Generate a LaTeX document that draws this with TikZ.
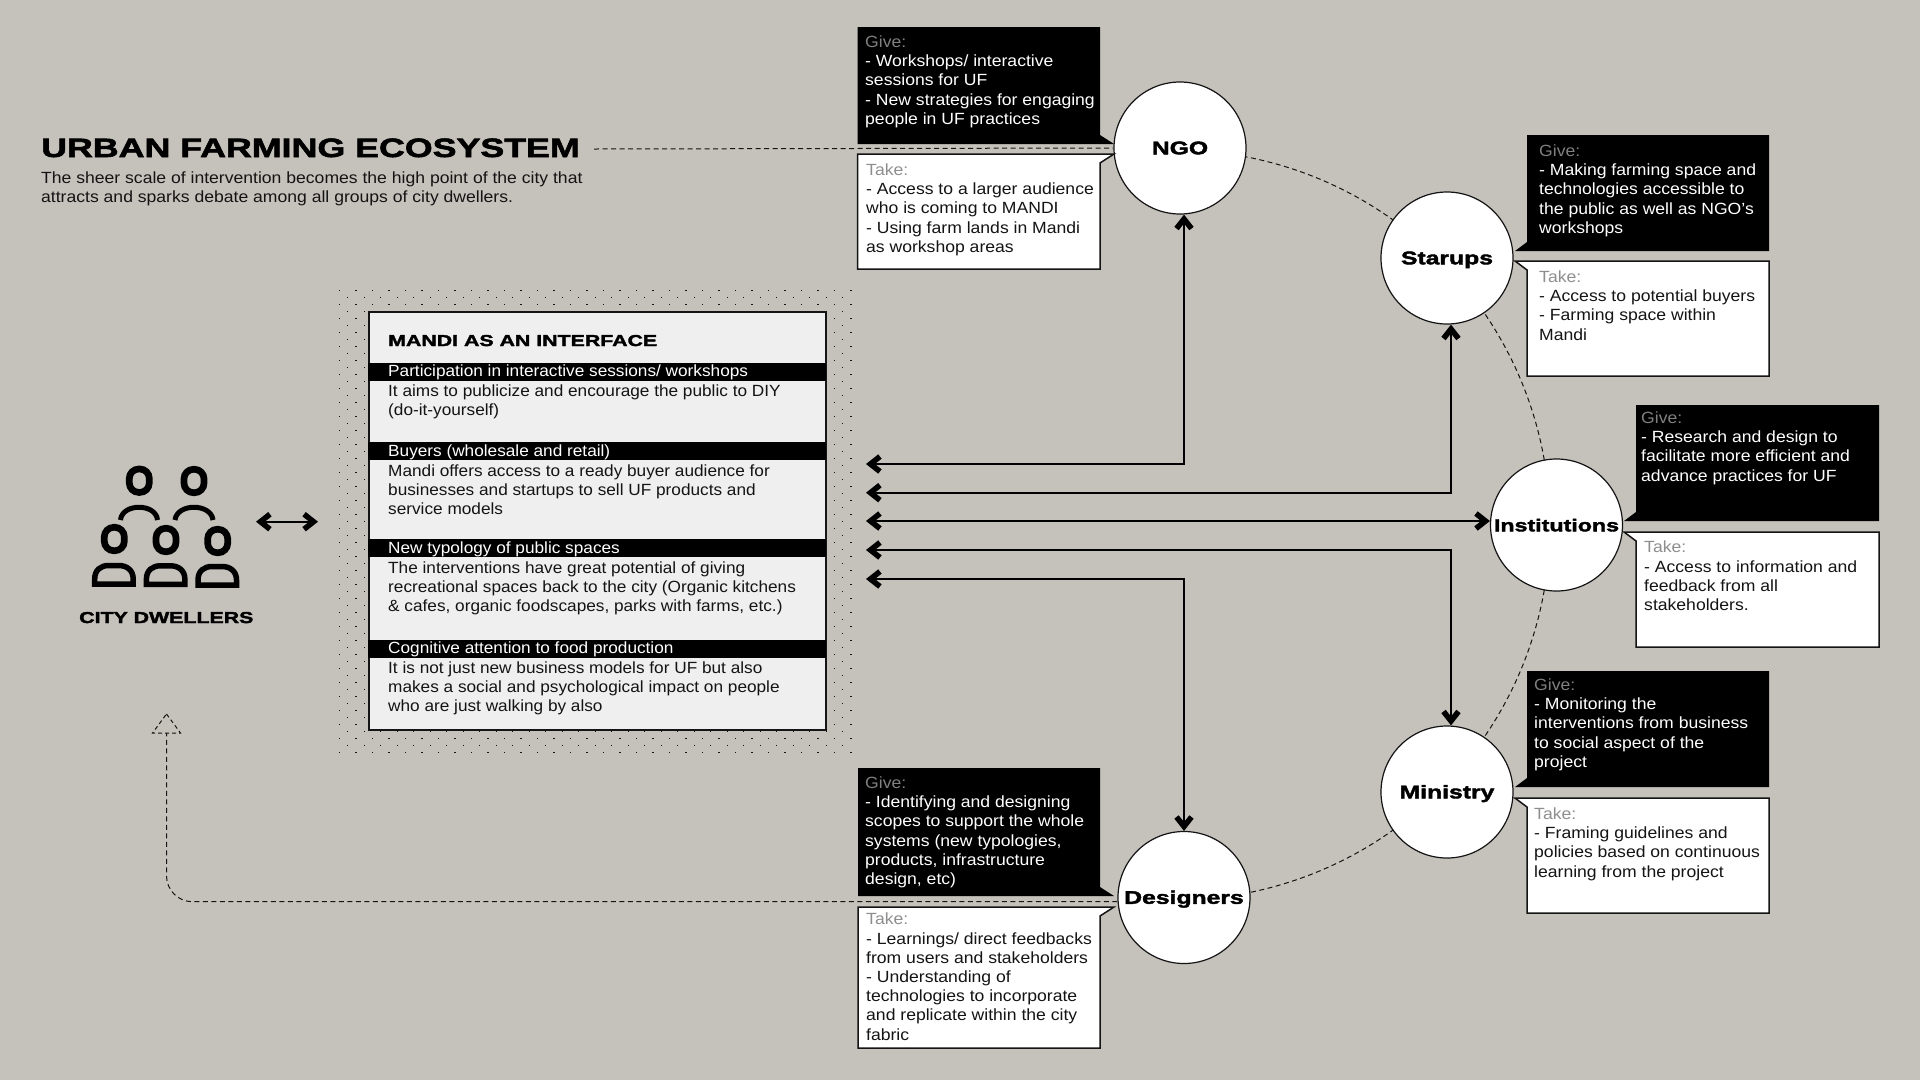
\documentclass[tikz,border=0pt]{standalone}
\usepackage{fontspec}
\usetikzlibrary{arrows.meta}
\setmainfont{Liberation Sans}[FakeStretch=1.085]
\newfontfamily\panelfont{Liberation Sans}[FakeStretch=1.063]
\newfontfamily\widefont{Liberation Sans}[FakeStretch=1.35,BoldFeatures={FakeBold=2.2}]
\definecolor{bgc}{HTML}{C5C1BB}
\definecolor{inkc}{HTML}{141414}
\definecolor{panelc}{HTML}{EFEFEF}
\definecolor{giveg}{HTML}{808080}
\definecolor{takeg}{HTML}{8E8E8E}
\tikzset{
 x=1pt,y=-1pt,
 bandtext/.style={inner sep=0pt,anchor=north west,align=left,text=white,font=\panelfont\fontsize{16.2}{19.2}\selectfont,execute at begin node={\rule{0pt}{14pt}}},
 body/.style={bandtext,text=inkc,yshift=-3.5pt,font=\fontsize{16.2}{19.2}\selectfont},
 panelbody/.style={bandtext,text=inkc,yshift=-3.5pt},
 givetext/.style={body,text=white},
 headb/.style={inner sep=0pt,anchor=base west,text=black,font=\widefont\bfseries\fontsize{#1}{#1}\selectfont},
 hub/.style={circle,draw=inkc,fill=white,line width=1.2pt,minimum size=132pt,inner sep=0pt,text=black,font=\widefont\bfseries\fontsize{18.3}{18.3}\selectfont},
 chev/.tip={Straight Barb[length=9.5pt,width=15pt,line width=5.5pt]},
 link/.style={draw=black,line width=2pt,{chev}-{chev}},
 thindash/.style={draw=inkc,line width=1pt,dash pattern=on 5pt off 3.5pt},
 pile/.style={line width=6.7pt,draw=black,rounded corners=9.5pt},
 dome/.style={line width=5.5pt,draw=black,line join=miter},
}
\newcommand{\givel}[4]{%
 \fill[black] (#1,#2) -- ++(#3,0) -- ++(0,#4-9) -- ++(14,9) -- ++(-14-#3,0) -- cycle;}
\newcommand{\takel}[4]{%
 \draw[fill=white,draw=inkc,line width=1.5pt,line join=miter] (#1,#2) -- ++(#3+14,0) -- ++(-14,9) -- ++(0,#4-9) -- ++(-#3,0) -- cycle;}
\newcommand{\giver}[4]{%
 \fill[black] (#1,#2) -- ++(#3,0) -- ++(0,#4) -- ++(-#3-12,0) -- ++(12,-9) -- cycle;}
\newcommand{\taker}[4]{%
 \draw[fill=white,draw=inkc,line width=1.5pt,line join=miter] (#1-12,#2) -- ++(12+#3,0) -- ++(0,#4) -- ++(-#3,0) -- ++(0,-#4+9) -- cycle;}
\newcommand{\gl}[1]{\textcolor{giveg}{Give:}\\#1}
\newcommand{\tl}[1]{\textcolor{takeg}{Take:}\\#1}
\newcommand{\hublabel}[1]{\smash{\raisebox{-6.3pt}{#1}}}
\begin{document}
\begin{tikzpicture}
\useasboundingbox (0,0) rectangle (1920,1080);
\fill[bgc] (0,0) rectangle (1920,1080);

% dotted field
\foreach \c in {0,...,62}{
 \pgfmathsetmacro{\dx}{339.5+8.25*\c}
 \pgfmathsetmacro{\dy}{isodd(\c)?297:290}
 \draw[inkc,line width=1.2pt,dash pattern=on 1.2pt off 12.8pt] (\dx,\dy) -- (\dx,754);
}

% outer ring
\draw[thindash,domain=-90:90,samples=120] plot ({1175+375*cos(\x)},{525+375*sin(\x)});

% hubs
\coordinate (titleend) at (594,149);
\coordinate (p1) at (866,464);
\coordinate (p2) at (866,492.7);
\coordinate (p3) at (866,521);
\coordinate (p4) at (866,550);
\coordinate (p5) at (866,579);
\node[hub] (ngo) at (1180,148) {\hublabel{NGO}};
\node[hub] (star) at (1447,258) {\hublabel{Starups}};
\node[hub,font=\widefont\bfseries\fontsize{17.2}{17.2}\selectfont] (inst) at (1556.5,525) {\hublabel{Institutions}};
\node[hub] (mini) at (1447,792) {\hublabel{Ministry}};
\node[hub] (desi) at (1184,897.5) {\hublabel{Designers}};

\draw[thindash] (titleend) -- (ngo.west);

% NGO boxes
\givel{857.5}{27}{242.5}{117}
\node[givetext] (ngog) at (865,32) {\gl{- Workshops/ interactive\\sessions for UF\\- New strategies for engaging\\people in UF practices}};
\takel{857.5}{154}{242.5}{115}
\node[body] (ngot) at (866,160) {\tl{- Access to a larger audience\\who is coming to MANDI\\- Using farm lands in Mandi\\as workshop areas}};

% Designers boxes
\givel{858}{768}{242}{128}
\node[givetext] (desig) at (865,773) {\gl{- Identifying and designing\\scopes to support the whole\\systems (new typologies,\\products, infrastructure\\design, etc)}};
\takel{858}{907}{242}{141}
\node[body] (desit) at (866,909.5) {\tl{- Learnings/ direct feedbacks\\from users and stakeholders\\- Understanding of\\technologies to incorporate\\and replicate within the city\\fabric}};

% Starups boxes
\giver{1527}{135}{242}{116}
\node[givetext] (starg) at (1539,141) {\gl{- Making farming space and\\technologies accessible to\\the public as well as NGO's\\workshops}};
\taker{1527}{261}{242}{115}
\node[body] (start) at (1539,267) {\tl{- Access to potential buyers\\- Farming space within\\Mandi}};

% Institutions boxes
\giver{1636}{405}{243}{116}
\node[givetext] (instg) at (1641,408) {\gl{- Research and design to\\facilitate more efficient and\\advance practices for UF}};
\taker{1636}{532}{243}{115}
\node[body] (instt) at (1644,537.5) {\tl{- Access to information and\\feedback from all\\stakeholders.}};

% Ministry boxes
\giver{1527}{671}{242}{116}
\node[givetext] (minig) at (1534,675) {\gl{- Monitoring the\\interventions from business\\to social aspect of the\\project}};
\taker{1527}{798}{242}{115}
\node[body] (minit) at (1534,804) {\tl{- Framing guidelines and\\policies based on continuous\\learning from the project}};

% title
\node[headb=26.5] (maintitle) at (41,157) {URBAN FARMING ECOSYSTEM};
\node[body] (subtitle) at (41,168) {The sheer scale of intervention becomes the high point of the city that\\attracts and sparks debate among all groups of city dwellers.};

% Mandi panel
\node[draw=inkc,fill=panelc,line width=2.4pt,minimum width=457pt,minimum height=418pt,inner sep=0pt,anchor=north west] (panel) at (368,311) {};
\foreach \by in {363,442,539,640}{\fill[black] (368,\by) rectangle (826,\by+18);}
\node[headb=15.8] (mtitle) at (388,346) {MANDI AS AN INTERFACE};
\node[bandtext] (b1) at (388,362) {Participation in interactive sessions/ workshops};
\node[panelbody] (t1) at (388,381) {It aims to publicize and encourage the public to DIY\\(do-it-yourself)};
\node[bandtext] (b2) at (388,442) {Buyers (wholesale and retail)};
\node[panelbody] (t2) at (388,461) {Mandi offers access to a ready buyer audience for\\businesses and startups to sell UF products and\\service models};
\node[bandtext] (b3) at (388,539) {New typology of public spaces};
\node[panelbody] (t3) at (388,558) {The interventions have great potential of giving\\recreational spaces back to the city (Organic kitchens\\\& cafes, organic foodscapes, parks with farms, etc.)};
\node[bandtext] (b4) at (388,639) {Cognitive attention to food production};
\node[panelbody] (t4) at (388,658) {It is not just new business models for UF but also\\makes a social and psychological impact on people\\who are just walking by also};

% connectors
\draw[link] ([xshift=4pt]ngo.south) |- (p1);
\draw[link] ([xshift=4pt]star.south) |- (p2);
\draw[link] (p3) -- (p3 -| inst.west);
\draw[link] ([xshift=4pt]mini.north) |- (p4);
\draw[link] (desi.north) |- (p5);

% feedback dashed
\coordinate (fbtop) at (166.5,733);
\coordinate (fbcorner) at (166.5,901.7);
\draw[thindash,rounded corners=26pt] (desi.west |- 0,901.7) -- (fbcorner) -- (fbtop);
\draw[thindash,dash pattern=on 4pt off 3pt] (166.5,714) -- (180.5,733) -- (152.5,733) -- cycle;

% crowd icon
\foreach \hx/\hy in {139.3/480.7,194/481,114.3/539,166/540,217.7/541}{
 \draw[pile] (\hx-10,\hy-11.7) rectangle (\hx+10,\hy+11.7);
}
\draw[line width=5pt,draw=black] (120.5,520) .. controls (122,503) and (156,503) .. (157.5,520);
\draw[line width=5pt,draw=black] (175,520) .. controls (177,503) and (211,503) .. (213,520);
\foreach \kx/\ky in {94.7/584,146.4/584.3,198/585}{
 \draw[dome] (\kx,\ky) -- (\kx,\ky-5) .. controls (\kx,\ky-14) and (\kx+6,\ky-18.5) .. (\kx+14,\ky-18.5) -- (\kx+24,\ky-18.5) .. controls (\kx+32,\ky-18.5) and (\kx+38.5,\ky-14) .. (\kx+38.5,\ky-5) -- (\kx+38.5,\ky) -- cycle;
}
\node[headb=15.8] (dwellers) at (79,623) {CITY DWELLERS};
\coordinate (ca) at (256,521.7);
\coordinate (cb) at (318,521.7);
\draw[link] (ca) -- (cb);
\end{tikzpicture}
\end{document}
